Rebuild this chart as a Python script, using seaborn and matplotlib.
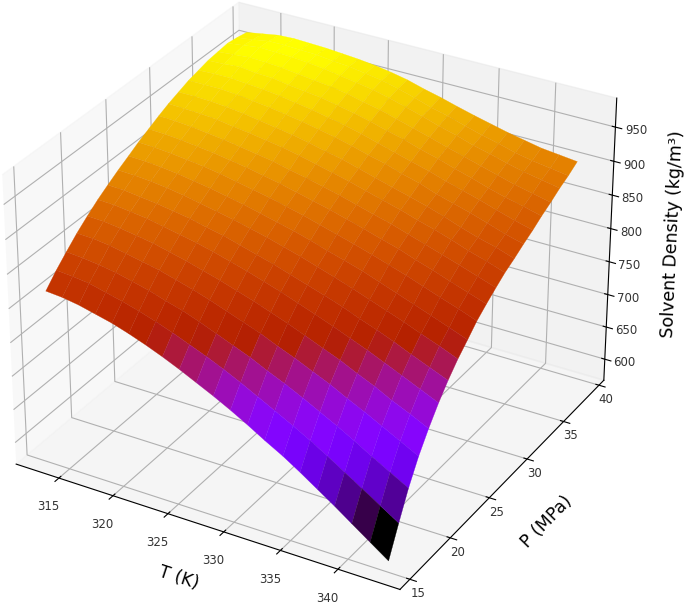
import numpy as np
import matplotlib
matplotlib.use("Agg")
import matplotlib.pyplot as plt
from matplotlib.transforms import Affine2D
import seaborn as sns

# Temperature (K) and pressure (MPa) grid
temperature = [312.2, 313.7, 315.2, 316.7, 318.2, 319.7, 321.2, 322.7, 324.2, 325.7, 327.2,
               328.7, 330.2, 331.7, 333.3, 334.8, 336.3, 337.8, 339.3, 340.9, 342.5]
pressure = [16.4, 17.6, 18.75, 19.95, 21.15, 22.35, 23.5, 24.7, 25.9, 27.05, 28.25,
            29.45, 30.6, 31.8, 33, 34.2, 35.35, 36.55, 37.75, 38.9, 40.1]

# Density, one row per temperature
density = [
    [804, 822, 837, 852, 865, 877, 887, 897, 906, 915, 923, 931, 938, 944, 950, 954, 958, 960, 962, 960, 957],
    [802, 820, 835, 851, 864, 876, 886, 896, 905, 914, 922, 930, 937, 944, 950, 955, 959, 962, 965, 963, 961],
    [798, 817, 832, 848, 861, 873, 883, 894, 903, 912, 920, 928, 936, 943, 950, 955, 961, 964, 968, 967, 965],
    [792, 811, 828, 843, 857, 870, 880, 891, 900, 909, 917, 925, 934, 941, 948, 953, 958, 963, 967, 967, 966],
    [786, 805, 822, 838, 853, 865, 876, 887, 896, 906, 914, 922, 930, 938, 945, 951, 957, 961, 966, 966, 965],
    [778, 798, 816, 833, 847, 860, 872, 882, 892, 902, 910, 918, 927, 934, 942, 948, 953, 958, 964, 965, 964],
    [769, 790, 808, 826, 841, 855, 866, 877, 887, 897, 906, 914, 923, 930, 938, 944, 950, 955, 961, 962, 962],
    [759, 781, 801, 819, 834, 849, 861, 872, 882, 892, 901, 910, 919, 926, 934, 940, 947, 952, 957, 960, 960],
    [748, 771, 792, 811, 827, 842, 854, 866, 876, 887, 896, 904, 914, 921, 929, 935, 942, 948, 953, 956, 957],
    [736, 761, 782, 802, 819, 835, 847, 860, 870, 881, 890, 899, 908, 915, 924, 930, 937, 942, 949, 952, 953],
    [724, 750, 772, 793, 811, 827, 840, 853, 864, 875, 884, 893, 902, 910, 918, 924, 931, 937, 943, 946, 948],
    [711, 738, 762, 784, 802, 819, 832, 846, 857, 868, 878, 887, 896, 903, 911, 917, 924, 930, 936, 939, 941],
    [697, 725, 750, 773, 793, 810, 824, 838, 849, 861, 871, 880, 889, 896, 905, 910, 918, 923, 929, 931, 935],
    [682, 712, 739, 763, 783, 801, 816, 830, 842, 854, 864, 873, 882, 889, 897, 903, 910, 916, 921, 925, 928],
    [667, 698, 726, 751, 772, 791, 807, 821, 834, 846, 856, 866, 875, 882, 890, 896, 903, 908, 914, 917, 921],
    [651, 684, 713, 740, 762, 781, 797, 812, 825, 838, 849, 858, 867, 875, 881, 888, 895, 901, 906, 910, 915],
    [634, 669, 700, 727, 750, 771, 788, 803, 816, 830, 840, 850, 860, 867, 874, 881, 888, 894, 900, 904, 909],
    [617, 653, 686, 715, 739, 760, 778, 794, 807, 821, 832, 842, 852, 858, 867, 874, 880, 887, 893, 897, 904],
    [599, 637, 671, 702, 726, 749, 767, 784, 798, 812, 823, 834, 843, 850, 859, 866, 873, 880, 887, 892, 899],
    [580, 620, 656, 688, 714, 737, 756, 774, 788, 803, 814, 825, 835, 843, 850, 858, 867, 874, 882, 888, 896],
    [561, 603, 641, 674, 701, 725, 745, 763, 778, 793, 805, 816, 826, 834, 843, 851, 860, 868, 877, 884, 893],
]

t_ticks = [315, 320, 325, 330, 335, 340]
p_ticks = [15, 20, 25, 30, 35, 40]
z_ticks = [600, 650, 700, 750, 800, 850, 900, 950]

cmap = sns.color_palette("gnuplot", as_cmap=True)

T, P = np.meshgrid(temperature, pressure, indexing="ij")
Z = np.array(density, dtype=float)

fig = plt.figure(figsize=(6.85, 6.1), dpi=100)
ax = fig.add_axes([-0.053, -0.037, 1.0, 1.12], projection="3d")
surf = ax.plot_surface(T, P, Z, cmap=cmap, rstride=1, cstride=1, linewidth=0, antialiased=True)
surf.set_edgecolor("face")
surf.set_linewidth(0.2)

ax.set_xlim(311, 345.3)
ax.set_ylim(13.8, 40.7)
ax.set_zlim(567, 992)
ax.set_xticks(t_ticks)
ax.set_yticks(p_ticks)
ax.set_zticks(z_ticks)
ax.tick_params(labelsize=8.5, labelcolor="#333333")
ax.tick_params(axis="y", pad=-3)
ax.tick_params(axis="z", pad=1)
ax.set_xlabel("T (K)", fontsize=12.5, labelpad=6)
ax.set_ylabel("P (MPa)", fontsize=12.5, labelpad=6)
ax.set_zlabel("Solvent Density (kg/m³)", fontsize=12.5, labelpad=7)
ax.set_box_aspect((4, 4, 3), zoom=1.0)

# Tick labels sit a little off where mplot3d puts them
for tick in ax.yaxis.get_major_ticks():
    tick.label1.set_transform(tick.label1.get_transform() + Affine2D().translate(1, -14))
for tick in ax.xaxis.get_major_ticks():
    tick.label1.set_transform(tick.label1.get_transform() + Affine2D().translate(2, 2.5))

fig.savefig("out.png", dpi=100)
